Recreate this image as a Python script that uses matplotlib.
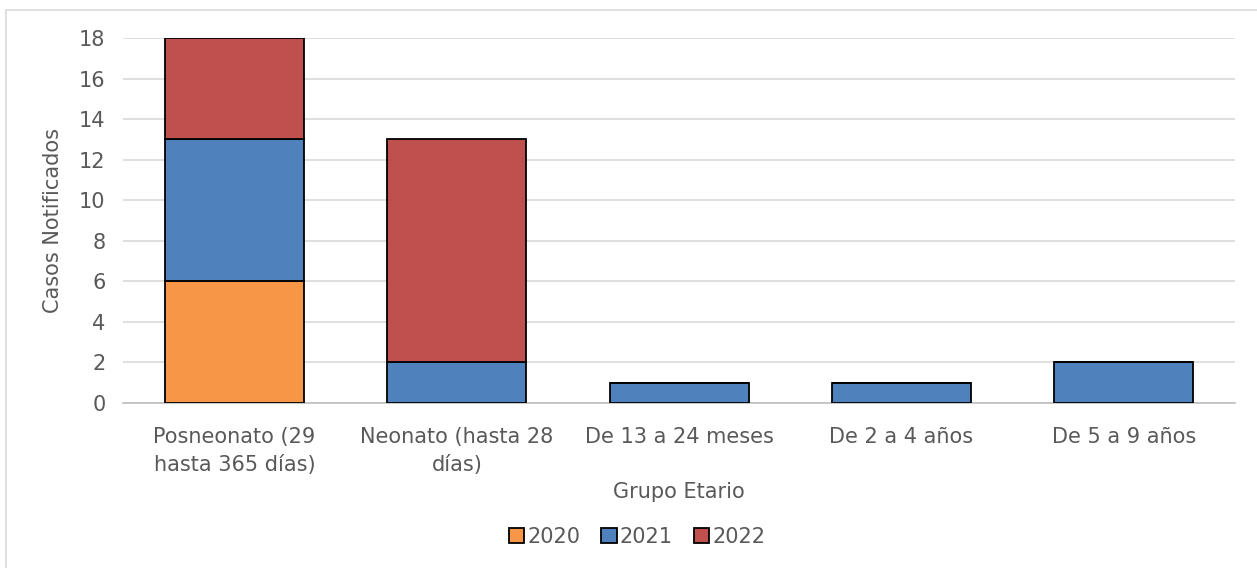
import matplotlib.pyplot as plt
import numpy as np
from matplotlib.patches import Rectangle

plt.rcParams['font.family'] = ['DejaVu Sans']

# cases notified per age group, stacked by year
groups = ['Posneonato (29\nhasta 365 días)', 'Neonato (hasta 28\ndías)',
          'De 13 a 24 meses', 'De 2 a 4 años', 'De 5 a 9 años']
years = ['2020', '2021', '2022']
cases_2020 = [6, 0, 0, 0, 0]
cases_2021 = [7, 2, 1, 1, 2]
cases_2022 = [5, 11, 0, 0, 0]
colors = ['#F79646', '#4F81BD', '#C0504D']
text_color = '#595959'

fig = plt.figure(figsize=(12.57, 5.68), dpi=100)
ax = fig.add_axes([0.0982, 0.2905, 0.8843, 0.6426])

# light chart frame
fig.patches.append(Rectangle((0.0045, -0.01), 1.1, 0.9925, transform=fig.transFigure,
                             fill=False, edgecolor='#D9D9D9', linewidth=1.2))

x = np.arange(len(groups))
bottom = np.zeros(len(groups))
for year, vals, col in zip(years, [cases_2020, cases_2021, cases_2022], colors):
    vals = np.array(vals, dtype=float)
    ax.bar(x, vals, 0.625, bottom=bottom, color=col, edgecolor='black',
           linewidth=1.3, label=year, zorder=3)
    bottom += vals

ax.set_xlim(-0.5, len(groups) - 0.5)
ax.set_ylim(0, 18)
ax.set_yticks(range(0, 19, 2))
ax.yaxis.grid(True, color='#D9D9D9', linewidth=1.2, zorder=0)
for side in ['top', 'right', 'left']:
    ax.spines[side].set_visible(False)
ax.spines['bottom'].set_color('#BFBFBF')
ax.spines['bottom'].set_linewidth(1.2)
ax.tick_params(axis='both', length=0, labelsize=15, colors=text_color)
ax.tick_params(axis='y', pad=13)
ax.tick_params(axis='x', pad=17)
ax.set_xticks(x)
ax.set_xticklabels(groups, linespacing=1.5)

ax.set_ylabel('Casos Notificados', fontsize=15, color=text_color, labelpad=11)
ax.set_xlabel('Grupo Etario', fontsize=15, color=text_color, labelpad=5)

ax.legend(loc='upper center', bbox_to_anchor=(0.462, -0.3), ncol=3, frameon=False,
          fontsize=15, labelcolor=text_color, handlelength=0.75, handleheight=0.75,
          handletextpad=0.15, columnspacing=1.0, borderpad=0.2)

plt.savefig('out.png', dpi=100)
